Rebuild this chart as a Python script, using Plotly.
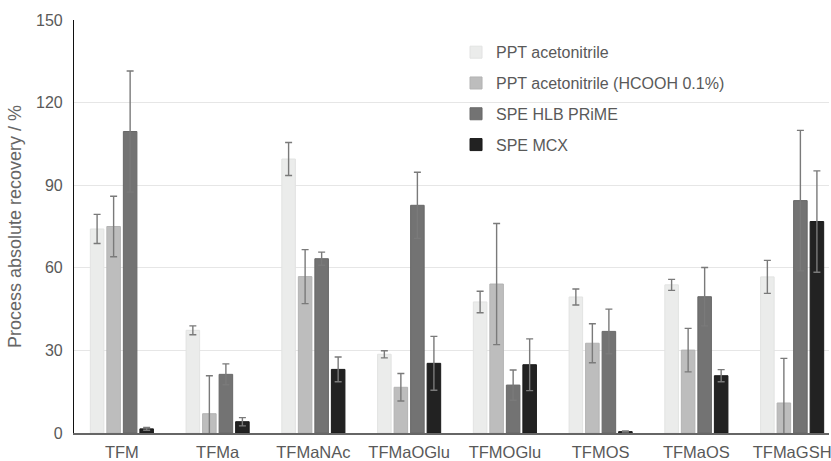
import plotly.graph_objects as go

categories = ["TFM", "TFMa", "TFMaNAc", "TFMaOGlu", "TFMOGlu", "TFMOS", "TFMaOS", "TFMaGSH"]
series_names = ["PPT acetonitrile", "PPT acetonitrile (HCOOH 0.1%)", "SPE HLB PRiME", "SPE MCX"]

ppt_acn = [74.1, 37.3, 99.5, 28.6, 47.6, 49.4, 53.8, 56.7]
ppt_acn_err = [5.3, 1.6, 6.0, 1.3, 3.9, 2.9, 2.0, 6.0]
ppt_hcooh = [75.0, 7.0, 56.8, 16.6, 54.1, 32.6, 30.1, 10.9]
ppt_hcooh_err = [11.0, 13.8, 9.8, 5.0, 22.0, 7.1, 7.9, 16.2]
spe_hlb = [109.5, 21.3, 63.3, 82.7, 17.4, 36.9, 49.5, 84.4]
spe_hlb_err = [22.0, 3.8, 2.4, 12.0, 5.5, 8.1, 10.6, 25.5]
spe_mcx = [1.5, 4.1, 23.1, 25.3, 24.8, 0.5, 20.8, 76.8]
spe_mcx_err = [0.5, 1.5, 4.5, 9.8, 9.4, 0.2, 2.2, 18.4]

y_ticks = [0, 30, 60, 90, 120, 150]

values = [ppt_acn, ppt_hcooh, spe_hlb, spe_mcx]
errors = [ppt_acn_err, ppt_hcooh_err, spe_hlb_err, spe_mcx_err]
colors = ["#ebeceb", "#bdbdbd", "#737373", "#222222"]
edges = ["#e2e3e2", "#b3b3b3", "#686868", "#1a1a1a"]

fig = go.Figure()
for i, (name, v, e, c, ec) in enumerate(zip(series_names, values, errors, colors, edges)):
    fig.add_trace(go.Bar(
        name=name, x=categories, y=v,
        marker=dict(color=c, line=dict(color=ec, width=1)),
        error_y=dict(type="data", array=e, visible=True, color="#7a7a7a", thickness=1.4, width=3.5),
        legendgroup=f"g{i}",
    ))

fig.update_layout(
    width=831, height=461,
    margin=dict(l=74, r=0, t=20, b=28),
    paper_bgcolor="white", plot_bgcolor="white",
    barmode="group", bargap=0.31, bargroupgap=0.18,
    font=dict(family="Liberation Sans, Arial, sans-serif", size=15, color="#595959"),
    showlegend=True,
    legend=dict(x=0.506, y=0.963, xanchor="left", yanchor="top", bgcolor="rgba(0,0,0,0)",
                font=dict(size=16, color="#595959"), tracegroupgap=7, itemwidth=30,
                traceorder="grouped"),
)
fig.update_xaxes(
    range=[-0.5, 7.385], showline=True, linecolor="#666666", linewidth=1.5,
    ticks="", showgrid=False, tickfont=dict(size=16.5, color="#595959"), ticklabelstandoff=3,
)
fig.update_yaxes(
    range=[0, 150], tickvals=y_ticks, showline=True, linecolor="#111111", linewidth=1.2,
    showgrid=True, gridcolor="#e6e6e6", gridwidth=1.2, zeroline=False,
    ticks="", ticklabelstandoff=7,
    tickfont=dict(size=16, color="#595959"),
    title=dict(text="Process absolute recovery / %", font=dict(size=18, color="#666666"), standoff=9),
)

fig.write_html("out.html")
